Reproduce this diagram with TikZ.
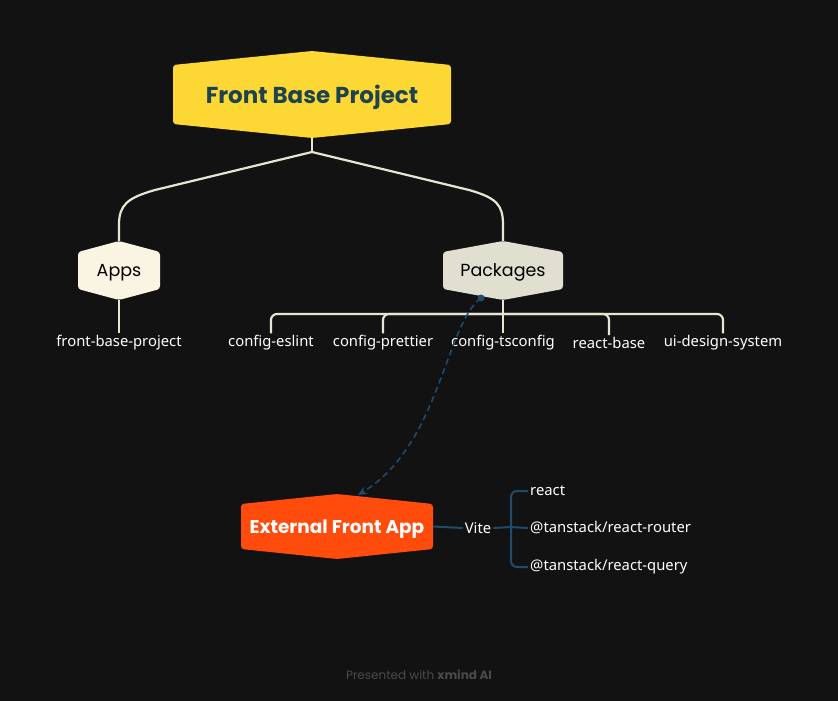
\documentclass[tikz,border=0pt]{standalone}
\usepackage{fontspec}
\setmainfont{Noto Sans}
\newfontfamily\headfont{Poppins}
\usetikzlibrary{calc,arrows.meta,backgrounds}
\definecolor{bgc}{HTML}{121212}
\definecolor{linec}{HTML}{E9E5D3}
\definecolor{yel}{HTML}{FDD835}
\definecolor{roottxt}{HTML}{1D4250}
\definecolor{appsc}{HTML}{FAF5E2}
\definecolor{pkgc}{HTML}{E1DFD0}
\definecolor{extc}{HTML}{FF4B0C}
\definecolor{bluec}{HTML}{1F4B6E}
\definecolor{footc}{HTML}{4A4A4A}
\newcommand\hexshape[5]{% name, halfw, halfh, dy, color
  \fill[#5, rounded corners=3pt]
    ($(#1.center)+(-#2,-#3+#4)$) -- ($(#1.center)+(0,-#3)$) -- ($(#1.center)+(#2,-#3+#4)$)
    -- ($(#1.center)+(#2,#3-#4)$) -- ($(#1.center)+(0,#3)$) -- ($(#1.center)+(-#2,#3-#4)$) -- cycle;}
\tikzset{
  conn/.style={draw=linec, line width=2.2pt},
  bconn/.style={draw=bluec, line width=2pt},
  leaf/.style={text=white, font=\fontsize{14.8}{17}\selectfont, inner sep=2pt},
  hex/.style={inner sep=0pt, font=\headfont\fontsize{17.5}{20}\selectfont},
}
\begin{document}
\begin{tikzpicture}[x=1pt,y=-1pt]
\useasboundingbox (0,0) rectangle (838,701);
\begin{scope}[on background layer]
\fill[bgc] (0,0) rectangle (838,701);
\end{scope}
% nodes
\node[hex, minimum width=278pt, minimum height=87pt] (root) at (312,94.5) {};
\node[text=roottxt, font=\headfont\bfseries\fontsize{23}{26}\selectfont, inner sep=0pt] (roottext) at (312,97) {Front Base Project};
\node[hex, minimum width=82pt, minimum height=59pt, text=black] (apps) at (119,270.5) {};
\node[text=black, font=\headfont\fontsize{17.5}{20}\selectfont, inner sep=0pt] (appstext) at (119,272.5) {Apps};
\node[hex, minimum width=120pt, minimum height=59pt, text=black] (pkg) at (503,270.5) {};
\node[text=black, font=\headfont\fontsize{17.5}{20}\selectfont, inner sep=0pt] (pkgtext) at (503,272.5) {Packages};
\node[hex, minimum width=192pt, minimum height=65pt] (ext) at (337,526.5) {};
\node[text=white, font=\headfont\bfseries\fontsize{18.5}{21}\selectfont, inner sep=0pt] (exttext) at (337,529) {External Front App};
\begin{scope}[on background layer]
\hexshape{root}{139}{43.5}{14}{yel}
\hexshape{apps}{41}{29.5}{11}{appsc}
\hexshape{pkg}{60}{29.5}{11}{pkgc}
\hexshape{ext}{96}{32.5}{10}{extc}
\end{scope}
% leaves
\node[leaf] (fbp) at (119,343) {front-base-project};
\node[leaf] (eslint) at (271,343) {config-eslint};
\node[leaf] (prettier) at (383,343) {config-prettier};
\node[leaf] (tscfg) at (503,343) {config-tsconfig};
\node[leaf] (rbase) at (609,343) {react-base};
\node[leaf] (uids) at (723,343) {ui-design-system};
\node[leaf] (vite) at (478,528) {Vite};
\node[leaf, anchor=west] (reactlib) at (528,491) {react};
\node[leaf, anchor=west] (router) at (528,528) {@tanstack/react-router};
\node[leaf, anchor=west] (query) at (528,567) {@tanstack/react-query};
\node[text=footc, font=\headfont\fontsize{12}{14}\selectfont] (foot) at (419,675) {Presented with \textbf{xmind AI}};
% connectors
\coordinate (rj) at (312,152);
\coordinate (bar) at (503,314);
\coordinate (vj) at (511,527);
\draw[conn] (root.south) -- (rj);
\draw[conn] (rj) -- (155,190) .. controls (127,198) and (119,205) .. (119,225) -- (apps.north);
\draw[conn] (rj) -- (469,190) .. controls (497,198) and (503,205) .. (503,225) -- (pkg.north);
\draw[conn] (apps.south) -- (fbp.north);
\draw[conn] (pkg.south) -- (tscfg.north);
\draw[conn, rounded corners=6pt] (eslint.north) |- (bar) -| (uids.north);
\draw[conn, rounded corners=6pt] (prettier.north) |- (bar);
\draw[conn, rounded corners=6pt] (rbase.north) |- (bar);
\draw[bconn] (ext.east) -- (vite.west);
\draw[bconn] (vite.east) -- (vj);
\draw[bconn] (vj) -- (router.west);
\draw[bconn, rounded corners=6pt] (reactlib.west) -| (vj) |- (query.west);
% dashed relation
\coordinate (ds) at (481,298);
\coordinate (de) at (358,495);
\fill[bluec] (ds) circle (3.5pt);
\draw[bluec, line width=1.6pt, dash pattern=on 6pt off 4pt, -{Stealth[length=9pt,width=8pt]}] (ds) .. controls (445,325) and (440,445) .. (de);
\end{tikzpicture}
\end{document}
